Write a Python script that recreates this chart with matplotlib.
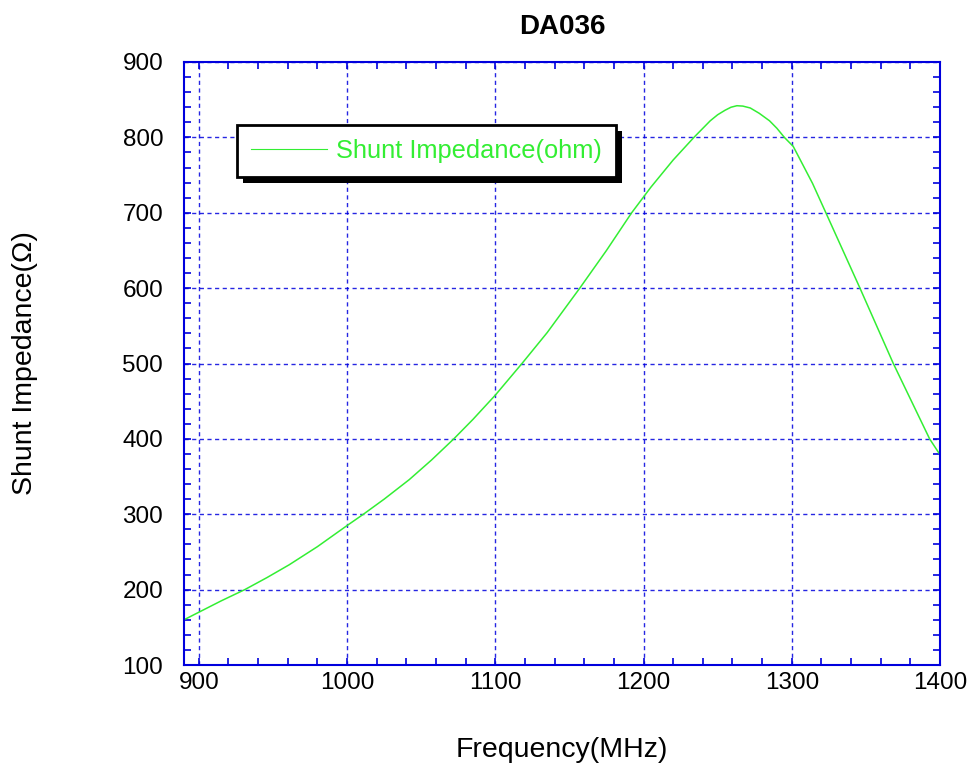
import matplotlib
matplotlib.use('Agg')
import matplotlib.pyplot as plt
import matplotlib.patheffects as pe
from matplotlib.ticker import MultipleLocator

plt.rcParams['font.family'] = ['Liberation Sans', 'DejaVu Sans']

# values
freq = [890, 900, 915, 931, 946, 961, 980, 1000, 1011, 1025, 1042, 1057, 1072,
        1085, 1100, 1118, 1135, 1157, 1175, 1192, 1205, 1220, 1234, 1245, 1250,
        1255, 1259, 1263, 1267, 1272, 1278, 1285, 1290, 1295, 1301, 1314, 1323,
        1346, 1368.5, 1393, 1400]
shunt = [160, 170, 185, 200, 216, 233, 257, 285, 300, 320, 346, 372, 400,
         426, 458, 500, 541, 600, 650, 700, 734, 770, 800, 822, 830,
         836, 840, 842, 841.5, 839, 832, 822, 812, 800, 788, 739, 700,
         600, 500, 400, 379]

green = '#33ee33'
blue = '#0000dd'

fig = plt.figure(figsize=(9.7, 7.71), dpi=100)
ax = fig.add_axes([184/970, 1-665/771, 756/970, 603/771])

ax.plot(freq, shunt, color=green, linewidth=1.1, label='Shunt Impedance(ohm)')

ax.set_xlim(890, 1400)
ax.set_ylim(100, 900)
ax.xaxis.set_major_locator(MultipleLocator(100))
ax.xaxis.set_minor_locator(MultipleLocator(20))
ax.yaxis.set_major_locator(MultipleLocator(100))
ax.yaxis.set_minor_locator(MultipleLocator(20))

ax.tick_params(which='both', direction='in', top=True, right=True,
               length=5, width=1.2, color=blue)
ax.tick_params(axis='x', labelsize=17.5, pad=5)
ax.tick_params(axis='y', labelsize=17.5, pad=15)

for s in ax.spines.values():
    s.set_color(blue)
    s.set_linewidth(1.5)

ax.grid(True, which='major', color=blue, linestyle=(0, (3, 2.5)), linewidth=1.0, alpha=0.85)

ax.set_title('DA036', fontsize=20, fontweight='bold', pad=20)
ax.set_xlabel('Frequency(MHz)', fontsize=20.5, va='center')
ax.xaxis.set_label_coords(0.5, (665-750)/603)
ax.set_ylabel('Shunt Impedance(\u03a9)', fontsize=20.5, va='center')
ax.yaxis.set_label_coords((25-184)/756, 0.5)

leg = ax.legend(loc='upper left', bbox_to_anchor=((237-184)/756, (665-125)/603),
                borderaxespad=0, fontsize=18.3, handlelength=3.0, handletextpad=0.36,
                borderpad=0.55, fancybox=False, framealpha=1, edgecolor='black')
leg.get_frame().set_linewidth(2)
leg.get_frame().set_path_effects([
    pe.SimplePatchShadow(offset=(4, -4), shadow_rgbFace='black', alpha=1),
    pe.Normal()])
for t in leg.get_texts():
    t.set_color(green)
for h in leg.get_lines():
    h.set_linewidth(0.8)

fig.savefig('out.png', dpi=100)
